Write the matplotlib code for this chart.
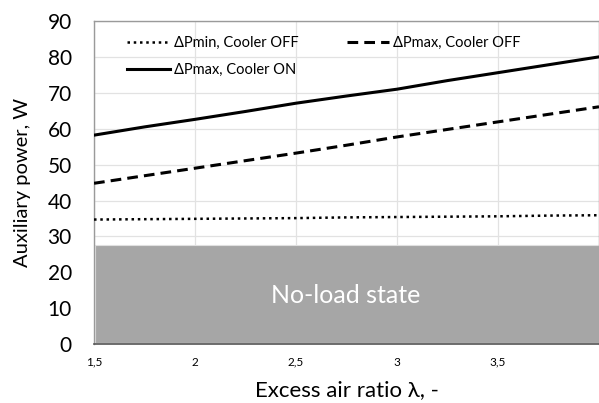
import matplotlib
matplotlib.use("Agg")
import matplotlib.pyplot as plt
from matplotlib.patches import Rectangle

# Excess air ratio sample points
lam = [1.5, 1.75, 2.0, 2.25, 2.5, 2.75, 3.0, 3.25, 3.5, 3.75, 4.0]

# Auxiliary power curves, W
p_min_off = [34.7, 34.8, 34.9, 35.0, 35.1, 35.3, 35.4, 35.5, 35.6, 35.8, 35.9]
p_max_off = [44.8, 46.9, 49.0, 51.1, 53.2, 55.4, 57.7, 59.8, 61.9, 64.0, 66.1]
p_max_on = [58.2, 60.5, 62.6, 64.8, 67.1, 69.1, 71.0, 73.4, 75.6, 77.8, 80.0]

no_load_level = 27.6

x_ticks = [1.5, 2.0, 2.5, 3.0, 3.5]
x_tick_labels = ["1,5", "2", "2,5", "3", "3,5"]
y_ticks = [0, 10, 20, 30, 40, 50, 60, 70, 80, 90]

plt.rcParams["font.family"] = ["Lato", "DejaVu Sans"]

fig = plt.figure(figsize=(5.99, 4.03), dpi=100)
ax = fig.add_axes([0.157, 0.146, 0.843, 0.802])

ax.set_xlim(1.5, 4.0)
ax.set_ylim(0, 90)

# no-load region
ax.add_patch(Rectangle((1.505, 0.4), 4.0 - 1.505, no_load_level - 0.4,
                       facecolor="#a6a6a6", edgecolor="#e0e0e0", linewidth=0.8,
                       zorder=1))
ax.text(2.745, 13.6, "No-load state", color="white", fontsize=18,
        ha="center", va="center", zorder=2)

h_min_off, = ax.plot(lam, p_min_off, color="black", linestyle=(0, (1, 1.5)),
                     linewidth=1.8, label="ΔPmin, Cooler OFF", zorder=3)
h_max_off, = ax.plot(lam, p_max_off, color="black", linestyle=(0, (3.5, 2)),
                     linewidth=2.2, label="ΔPmax, Cooler OFF", zorder=3)
h_max_on, = ax.plot(lam, p_max_on, color="black", linestyle="-",
                    linewidth=2.2, label="ΔPmax, Cooler ON", zorder=3)

ax.set_xticks(x_ticks)
ax.set_xticklabels(x_tick_labels, fontsize=8.5)
ax.set_yticks(y_ticks)
ax.tick_params(axis="y", labelsize=15, length=0, pad=16)
ax.tick_params(axis="x", length=0, pad=9)

ax.grid(True, color="#e2e2e2", linewidth=0.9, zorder=0)
ax.set_axisbelow(True)

for side in ["top", "left", "right"]:
    ax.spines[side].set_color("#9a9a9a")
    ax.spines[side].set_linewidth(1.0)
ax.spines["bottom"].set_color("#555555")
ax.spines["bottom"].set_linewidth(1.2)

ax.set_xlabel("Excess air ratio λ, -", fontsize=16, labelpad=9)
ax.set_ylabel("Auxiliary power, W", fontsize=14.5, labelpad=12)

ax.legend(handles=[h_min_off, h_max_on, h_max_off], loc="upper left", ncol=2,
          frameon=False, fontsize=10.5, bbox_to_anchor=(0.04, 0.995),
          handlelength=2.9, handletextpad=0.3, columnspacing=3.3,
          labelspacing=0.9)

fig.savefig("out.png", dpi=100)
